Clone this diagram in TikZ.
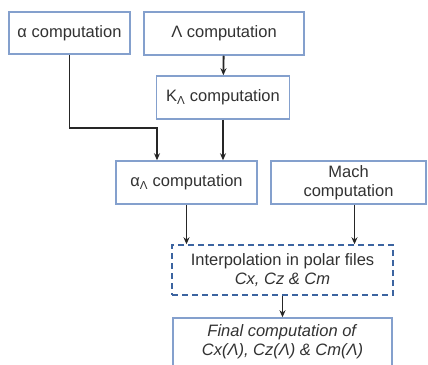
\documentclass[tikz,border=0pt]{standalone}
\usepackage{fontspec}
\setmainfont{Liberation Sans}
\usetikzlibrary{arrows.meta,positioning}
\definecolor{boxblue}{RGB}{132,160,205}
\definecolor{dashblue}{RGB}{60,100,160}
\definecolor{txtgray}{RGB}{50,50,50}
\tikzset{basic/.style={draw=boxblue,line width=1.5pt,fill=white,text=txtgray,align=center,inner sep=2pt,font=\fontsize{16.5}{19}\selectfont}}
\tikzset{calc/.style={basic,rectangle}}
\tikzset{interp/.style={basic,draw=dashblue,dash pattern=on 6pt off 4pt}}
\tikzset{arrow/.style={draw=black!85,line width=1.8pt,-{Stealth[length=7pt,width=6pt]}}}

\begin{document}
\begin{tikzpicture}[x=1pt,y=-1pt]
    \useasboundingbox (0,0) rectangle (428,364);
    \node[calc,minimum width=121pt,minimum height=42pt] (alpha) at (69.5,33) {α computation};
    \node[calc,minimum width=160pt,minimum height=43pt] (lam) at (224,33.5) {Λ computation};
    \node[calc,minimum width=133pt,minimum height=43pt] (klam) at (223,97.5) {K\textsubscript{Λ} computation};
    \node[calc,minimum width=141pt,minimum height=43pt] (alam) at (186.5,182.5) {α\textsubscript{Λ} computation};
    \node[calc,minimum width=155pt,minimum height=43pt] (mach) at (348.5,182.5) {Mach\\computation};
    \node[interp,minimum width=221pt,minimum height=50pt] (polar) at (282.5,270) {Interpolation in polar files\\\textit{Cx, Cz \& Cm}};
    \node[calc,minimum width=219pt,minimum height=48pt] (final) at (282.5,342) {\textit{Final computation of}\\\textit{Cx(Λ), Cz(Λ) \& Cm(Λ)}};

    \coordinate (elbow) at (157,128);

        \path[arrow] (lam) -- (klam);
        \path[arrow] (alpha.south) |- (elbow) -- (elbow |- alam.north);
        \path[arrow] (klam.south) -- (klam.south |- alam.north);
        \path[arrow] (alam.south) -- (alam.south |- polar.north);
        \path[arrow] ([xshift=6pt]mach.south) -- ([xshift=6pt]mach.south |- polar.north);
        \path[arrow] (polar) -- (final);
  \end{tikzpicture}
\end{document}
